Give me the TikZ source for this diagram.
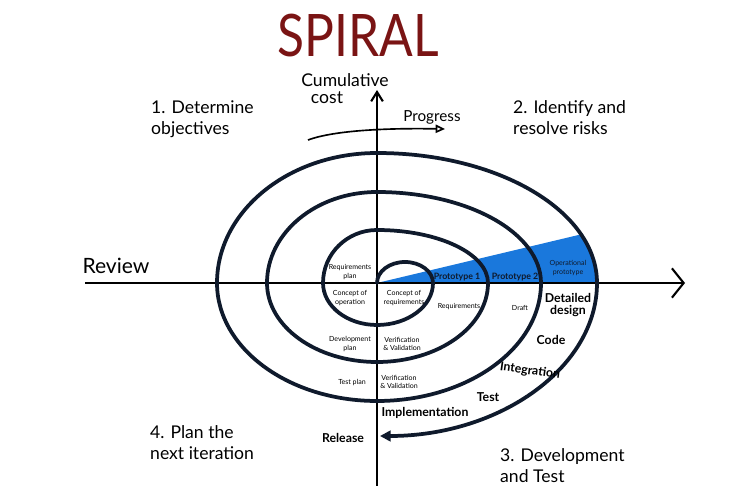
\documentclass[tikz,border=0pt]{standalone}
\usepackage{fontspec}
\setmainfont{Lato}
\usetikzlibrary{arrows.meta}
\definecolor{spiralred}{HTML}{7A1414}
\definecolor{ink}{HTML}{0F1A2C}
\definecolor{protoblue}{HTML}{1A78DC}
\begin{document}
\begin{tikzpicture}[x=0.03cm,y=0.03cm,
  big/.style={font=\fontsize{15}{18}\selectfont, align=left, inner sep=0, anchor=north west},
  mid/.style={font=\fontsize{10.5}{11}\selectfont\bfseries, inner sep=0, align=center},
  small/.style={font=\fontsize{6}{7}\selectfont, inner sep=0, align=center},
  proto/.style={font=\fontsize{7.5}{8}\selectfont\bfseries, inner sep=0, align=center, text=ink},
  axisline/.style={line width=1.8pt, black},
  spiralline/.style={line width=3.2pt, draw=ink, line cap=round, line join=round}]
\useasboundingbox (0,0) rectangle (753,-486);
\fill[white] (0,0) rectangle (753,-486);

\coordinate (O) at (377,-283);
\coordinate (vtop) at (377,-90);
\coordinate (vbot) at (377,-486);
\coordinate (hleft) at (85,-283);
\coordinate (hright) at (685,-283);
\coordinate (bluetip) at (581,-234.4);

% blue wedge
\fill[protoblue] (O) -- (bluetip) arc[start angle=22, end angle=0, x radius=220, y radius=130] -- cycle;

% axes
\draw[axisline, -{Straight Barb[length=8pt,width=10pt,line width=1.8pt]}] (vbot) -- (vtop);
\draw[axisline, -{Straight Barb[length=10pt,width=25pt,line width=1.8pt]}] (hleft) -- (hright);

% spiral
\draw[spiralline, -{Triangle[length=9pt,width=9pt]}] (O)
  arc[start angle=180, end angle=0, x radius=28, y radius=21]
  arc[start angle=0, end angle=-90, x radius=56, y radius=42]
  arc[start angle=270, end angle=180, x radius=54, y radius=42]
  arc[start angle=180, end angle=90, x radius=54, y radius=53]
  arc[start angle=90, end angle=0, x radius=111, y radius=53]
  arc[start angle=0, end angle=-90, x radius=111, y radius=79]
  arc[start angle=270, end angle=180, x radius=110, y radius=79]
  arc[start angle=180, end angle=90, x radius=110, y radius=91]
  arc[start angle=90, end angle=0, x radius=164, y radius=91]
  arc[start angle=0, end angle=-90, x radius=164, y radius=118]
  arc[start angle=270, end angle=180, x radius=160, y radius=118]
  arc[start angle=180, end angle=90, x radius=160, y radius=130]
  arc[start angle=90, end angle=0, x radius=220, y radius=130]
  arc[start angle=0, end angle=-90, x radius=217, y radius=153];

% progress arrow
\coordinate (pa) at (308,-140);
\coordinate (pb) at (445,-129);
\draw[line width=1.4pt, -{Triangle[open,length=8pt,width=7pt]}] (pa) .. controls (335,-130) and (390,-128) .. (pb);

% title and axis labels
\node[font=\fontsize{50}{50}\selectfont, text=spiralred, inner sep=0] (title) at (358,-36) {\scalebox{0.85}[1]{SPIRAL}};
\node[font=\fontsize{15}{16}\selectfont, inner sep=0] (cum) at (345,-80) {Cumulative};
\node[font=\fontsize{15}{16}\selectfont, inner sep=0] (cost) at (327,-98) {cost};
\node[font=\fontsize{13}{14}\selectfont, inner sep=0] (progress) at (432,-117) {Progress};
\node[font=\fontsize{18}{20}\selectfont, inner sep=0] (review) at (116,-266) {Review};

% quadrant labels
\node[big] (q1) at (151,-100) {1. Determine\\objectives};
\node[big] (q2) at (513,-100) {2. Identify and\\resolve risks};
\node[big] (q4) at (150,-425) {4. Plan the\\next iteration};
\node[big] (q3) at (500,-448) {3. Development\\and Test};

% prototypes
\node[proto] (p1) at (457,-277) {Prototype 1};
\node[proto] (p2) at (515,-277) {Prototype 2};
\node[small, text=ink] (p3) at (568,-268) {Operational\\prototype};

% inner labels
\node[small] (rp) at (350,-272) {Requirements\\plan};
\node[small] (co) at (350,-298) {Concept of\\operation};
\node[small] (cr) at (404,-298) {Concept of\\requirements};
\node[small] (req) at (459,-307) {Requirements};
\node[small] (draft) at (520,-308) {Draft};
\node[small] (dp) at (350,-344) {Development\\plan};
\node[small] (vv1) at (402,-344) {Verification\\\& Validation};
\node[small] (tp) at (352,-383) {Test plan};
\node[small] (vv2) at (399,-382) {Verification\\\& Validation};

% development labels
\node[mid] (dd) at (568,-305) {Detailed\\design};
\node[mid] (code) at (551,-340) {Code};
\node[mid, rotate=-8] (integ) at (530,-371) {Integration};
\node[mid] (test) at (488,-397) {Test};
\node[mid] (impl) at (425,-413) {Implementation};
\node[mid] (rel) at (343,-438) {Release};
\end{tikzpicture}
\end{document}
